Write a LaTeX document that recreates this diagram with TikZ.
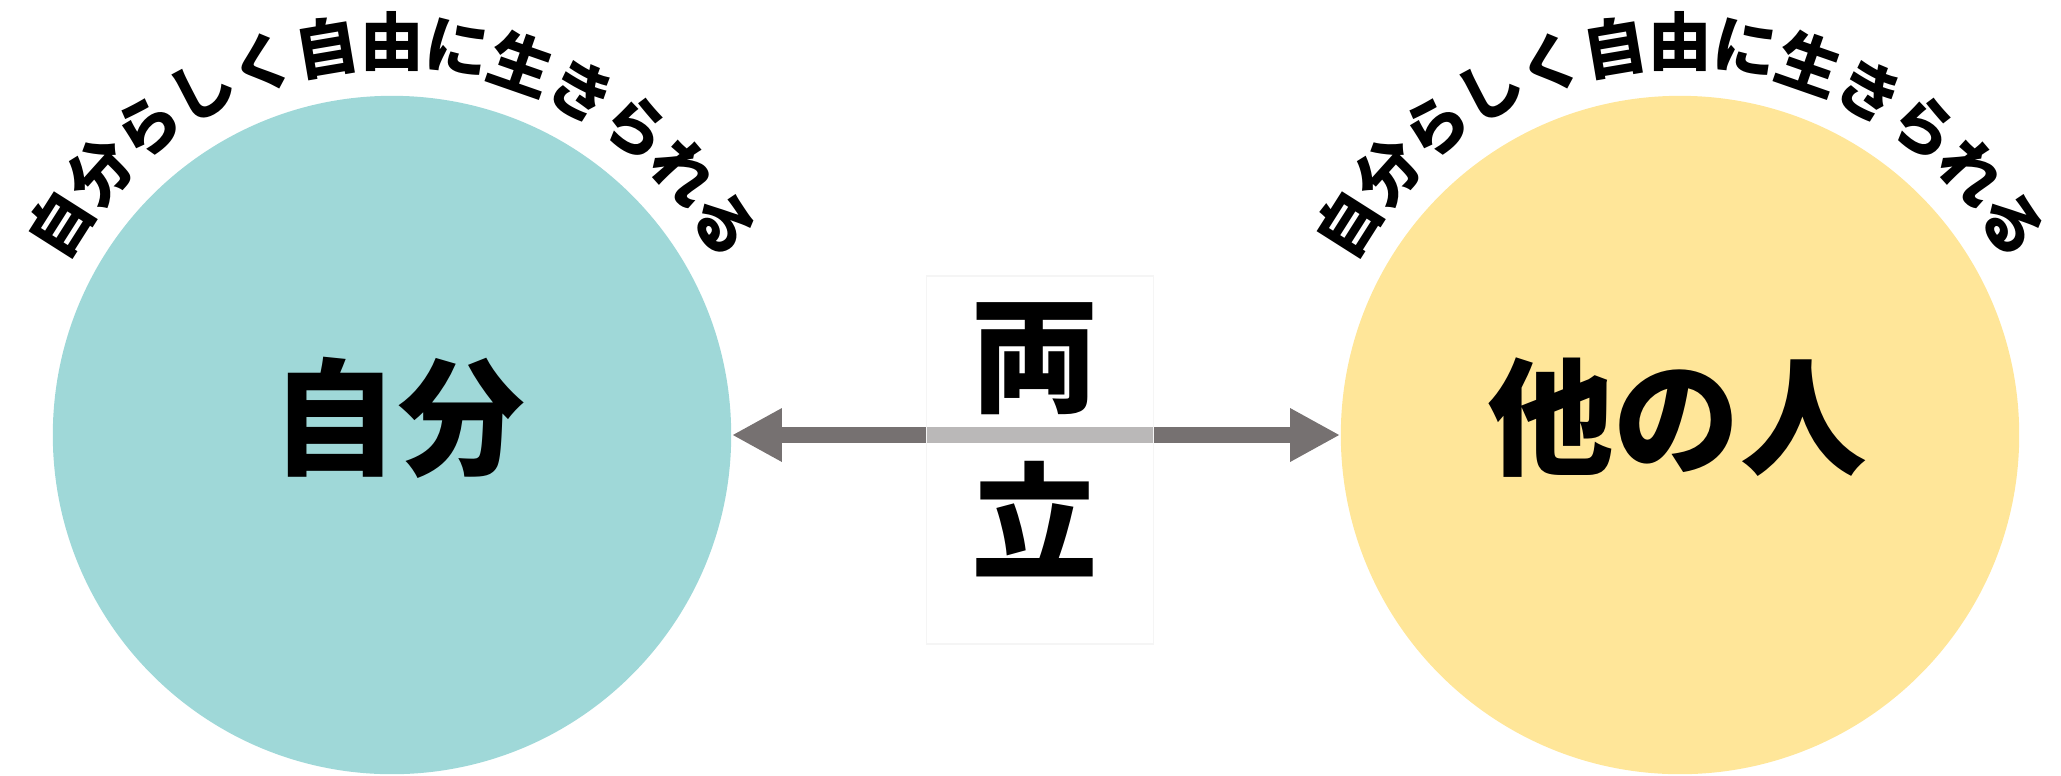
\documentclass[tikz,border=0pt]{standalone}
\usepackage{fontspec}
\newfontfamily\cjk{Noto Sans CJK JP}
\usetikzlibrary{arrows.meta,calc}
\definecolor{selfteal}{HTML}{9FD8D8}
\definecolor{otheryellow}{HTML}{FFE699}
\definecolor{arrowgray}{HTML}{767171}
\begin{document}
\begin{tikzpicture}[x=0.01cm, y=-0.01cm,
	person/.style = {circle, minimum size=6.78cm, inner sep=0pt},
	bigword/.style = {font=\cjk\bfseries\fontsize{36}{40}\selectfont, inner sep=0pt},
	arcchar/.style = {font=\cjk\bfseries\fontsize{18}{20}\selectfont, inner sep=0pt},
	both/.style = {-{Triangle[length=5mm,width=5mm]}, line width=4.6pt, arrowgray}]
	\useasboundingbox (0,0) rectangle (2061,775);
	\node [person, fill=selfteal] (self) at (392,435) {};
	\node [person, fill=otheryellow] (other) at (1680,435) {};
	\draw [both, {Triangle[length=5mm,width=5mm]}-{Triangle[length=5mm,width=5mm]}] (self) -- (other);
	\node [fill=white, fill opacity=0.5, draw=black!4, minimum width=2.27cm, minimum height=3.68cm] (frame) at (1040,460) {};
	\node [bigword, align=center, font=\cjk\bfseries\fontsize{36}{47.5}\selectfont] (ryoritsu) at (1035,440) {両\\立};
	\node [bigword] (selflabel) at (398,418) {自分};
	\node [bigword] (otherlabel) at (1677,418) {他の人};
	% text bent round the top of each circle
	\foreach \who in {self, other} {
		\foreach \ch [count=\i from 0] in {自,分,ら,し,く,自,由,に,生,き,ら,れ,る} {
			\pgfmathsetmacro\ang{90+(6-\i)*9.6}
			\node [arcchar, rotate=\ang-90] (\who arc\i) at ($(\who.center)+(\ang:3.93cm)$) {\ch};
		}
	}
\end{tikzpicture}
\end{document}
